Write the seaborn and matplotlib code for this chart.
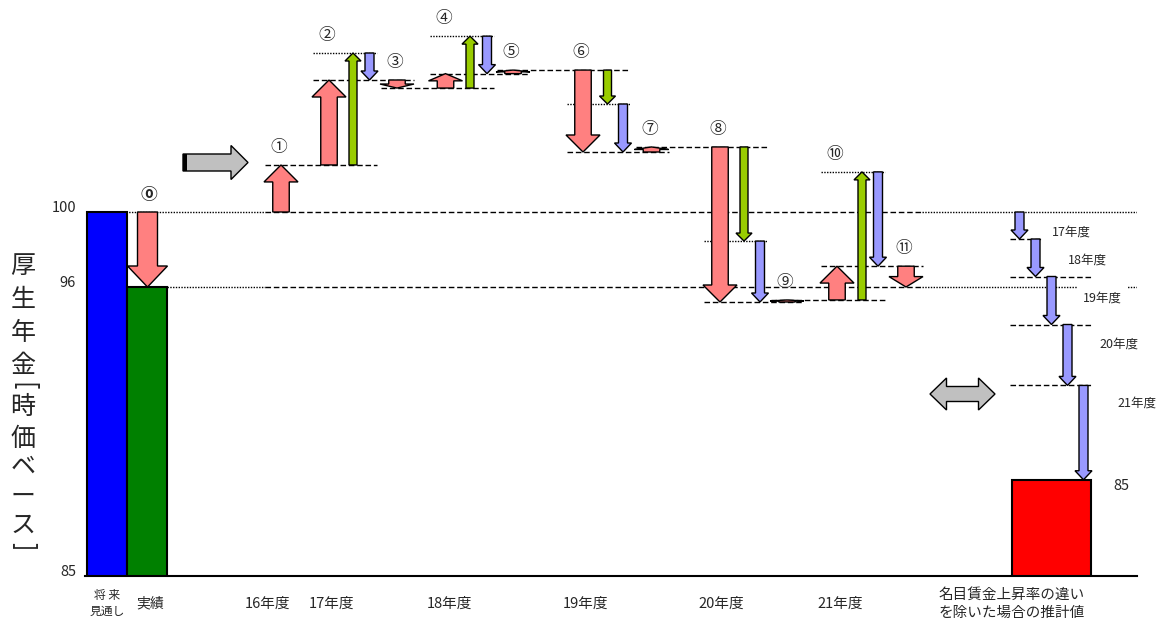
import matplotlib
matplotlib.use("Agg")
import matplotlib.pyplot as plt
import matplotlib.patches as mpatches
import numpy as np
import seaborn as sns

# ---- data (index, 将来見通し = 100) ----
bar_labels = ["将 来\n見通し", "実績"]
bar_values = [100, 96]

step_marks = ["①", "②", "③", "④", "⑤", "⑥", "⑦", "⑧", "⑨", "⑩", "⑪"]
step_total = [2.51, 4.53, -0.43, 0.77, 0.19, -4.37, 0.27, -8.27, 0.11, 1.80, -1.11]

years = ["16年度", "17年度", "18年度", "19年度", "20年度", "21年度"]
split_steps = [1, 3, 5, 7, 9]      # ② ④ ⑥ ⑧ ⑩ are split into two parts
wage_part = [5.97, 2.77, -1.81, -5.02, 6.83]
gap_part = [-1.44, -2.00, -2.56, -3.25, -5.03]

estimate_label = "名目賃金上昇率の違い\nを除いた場合の推計値"
estimate_text = "85"
ytick_labels = ["100", "96", "85"]
ylabel_chars = list("厚生年金[時価ベース]")

# ---- layout (pixels) ----
W, H = 1161, 622
PX = 18.75      # pixels per index point
Y100 = 212      # pixel row of 100


def yv(py):
    return 100 + (Y100 - py) / PX


def hv(px):
    return px / PX


bar_x = [107, 147]
est_x, est_w = 1051.5, 79
zero_x = 147.5
pink_x = [281, 329, 397, 445.5, 513, 583, 651.5, 720, 787, 837, 906]
green_x = [353, 470, 607.5, 744, 862]
blue_x = [369.5, 487, 623, 760, 878]
right_x = [1019.5, 1035.5, 1051.5, 1067.5, 1083.5]
right_line_end = [1043, 1092, 1092, 1092]
right_year_pos = [(1052, 232), (1068, 260), (1083, 298), (1099, 344), (1117, 403)]
tick_x = [107, 150, 268, 331, 449, 586, 721, 840, 1012]
ylabel_y = [266, 300, 333, 366, 386, 407, 439, 467, 497, 526, 546]

PINK = ("#FF8080", 16.5, 34, 17)
ZERO = ("#FF8080", 20, 40, 21)
GREEN = ("#99CC00", 8, 16, 8)
BLUE = ("#9999FF", 9, 17, 9)
GRAY = "#C0C0C0"
DASHED = (0, (4, 2))
DOTTED = (0, (1, 1))

sns.set_style("white")
plt.rcParams["font.family"] = ["Noto Sans CJK JP", "DejaVu Sans"]

fig = plt.figure(figsize=(W / 100, H / 100), dpi=100)
ax = fig.add_axes([85 / W, 46 / H, 1052 / W, 576 / H])


def varrow(x, y0, y1, style):
    fc, shaft, head, hl_px = style
    d = y1 - y0
    hl = min(hv(hl_px), abs(d) * 0.5)
    ax.arrow(x, y0, 0, d, width=shaft, head_width=head, head_length=hl,
             length_includes_head=True, fc=fc, ec="black", lw=1.0, zorder=4)


def hline(y, x0, x1, ls):
    ax.plot([x0, x1], [y, y], color="black", lw=1.0, ls=ls, zorder=1.5)


# bars
sns.barplot(x=bar_x, y=bar_values, hue=bar_labels, palette=["#0000FF", "#008000"],
            native_scale=True, width=1.0, dodge=False, saturation=1,
            edgecolor="black", linewidth=1.5, errorbar=None, legend=False,
            ax=ax, zorder=2)
levels = 100 + np.concatenate([[0], np.cumsum(step_total)])
right_levels = 100 + np.concatenate([[0], np.cumsum(gap_part)])
estimate_value = right_levels[-1]
sns.barplot(x=[est_x], y=[estimate_value], native_scale=True, width=est_w,
            color="#FF0000", saturation=1, edgecolor="black", linewidth=1.5,
            errorbar=None, ax=ax, zorder=2)

# base reference lines
x_first, x_last = pink_x[0] - 16, pink_x[-1] + 16
hline(100, 87, x_first, DOTTED)
hline(100, x_first, x_last, DASHED)
hline(100, x_last, 1137, DOTTED)
hline(96, 167, x_first, DOTTED)
hline(96, x_first, x_last, DASHED)
hline(96, x_last, 1137, DOTTED)

# ⓪
varrow(zero_x, bar_values[0], bar_values[1], ZERO)
ax.text(zero_x + 1, 100 + hv(17.5), "⓪", ha="center", va="center",
        fontsize=12, fontweight="bold")

# waterfall steps
for i, d in enumerate(step_total):
    varrow(pink_x[i], levels[i], levels[i + 1], PINK)
    top = max(levels[i], levels[i + 1])
    if i in split_steps:
        k = split_steps.index(i)
        mid = levels[i] + wage_part[k]
        varrow(green_x[k], levels[i], mid, GREEN)
        varrow(blue_x[k], mid, mid + gap_part[k], BLUE)
        hline(mid, pink_x[i] - 16, blue_x[k] + 7, DOTTED)
        top = max(top, mid)
    ax.text(pink_x[i] - 2, top + hv(17.5), step_marks[i], ha="center",
            va="center", fontsize=12, zorder=5)
    if i + 1 < len(step_total):
        nxt = i + 1
        if nxt in split_steps:
            x_end = blue_x[split_steps.index(nxt)] + 7
        else:
            x_end = pink_x[nxt] + 17
        hline(levels[i + 1], pink_x[i] - 16, x_end, DASHED)

# cumulative gap on the right
for j, g in enumerate(gap_part):
    varrow(right_x[j], right_levels[j], right_levels[j + 1], BLUE)
    if j < len(right_line_end):
        hline(right_levels[j + 1], 1010, right_line_end[j], DASHED)
    px, py = right_year_pos[j]
    ax.text(px, yv(py), years[j + 1], ha="left", va="center", fontsize=9,
            zorder=3, bbox=dict(boxstyle="square,pad=0.45", fc="white", ec="none"))
ax.text(1113, yv(486), estimate_text, ha="left", va="center", fontsize=10.5)

# gray decorative arrows
cy = yv(162.5)
ax.arrow(183, cy, 65, 0, width=hv(17), head_width=hv(34), head_length=17,
         length_includes_head=True, fc=GRAY, ec="black", lw=1.0, zorder=4)
ax.add_patch(mpatches.Rectangle((183, cy - hv(8.5)), 4, hv(17), fc="black",
                                ec="none", zorder=5))
cy = yv(394)
x0, x1, hl, sh, hh = 930, 995, 16.5, hv(7.5), hv(16)
ax.add_patch(mpatches.Polygon(
    [(x0, cy), (x0 + hl, cy + hh), (x0 + hl, cy + sh), (x1 - hl, cy + sh),
     (x1 - hl, cy + hh), (x1, cy), (x1 - hl, cy - hh), (x1 - hl, cy - sh),
     (x0 + hl, cy - sh), (x0 + hl, cy - hh)],
    closed=True, fc=GRAY, ec="black", lw=1.0, zorder=4))

# axes
ax.set_xlim(85, 1137)
ax.set_ylim(yv(576), yv(0))
ax.set_xlabel("")
ax.set_ylabel("")
for s in ["top", "right", "left"]:
    ax.spines[s].set_visible(False)
ax.spines["bottom"].set_linewidth(1.5)
ax.spines["bottom"].set_color("black")

ax.set_yticks([100, 96, yv(576)], ytick_labels)
ax.tick_params(axis="y", length=0, pad=6.5, labelsize=10.5)
for lab in ax.get_yticklabels():
    lab.set_va("baseline")

ax.set_xticks(tick_x, bar_labels + years + [estimate_label])
ax.tick_params(axis="x", length=0, pad=20)
xlabs = ax.get_xticklabels()
for n, lab in enumerate(xlabs):
    lab.set_va("center")
    lab.set_linespacing(1.3)
    lab.set_fontsize(10.5)
xlabs[0].set_fontsize(8.5)
xlabs[1].set_fontsize(10)

# vertical y label (brackets turned to the vertical form)
for ch, py in zip(ylabel_chars, ylabel_y):
    rot = -90 if ch in "[]" else 0
    fig.text(23 / W, 1 - py / H, ch, ha="center", va="center",
             fontsize=18, rotation=rot)

fig.savefig("out.png", dpi=100)
